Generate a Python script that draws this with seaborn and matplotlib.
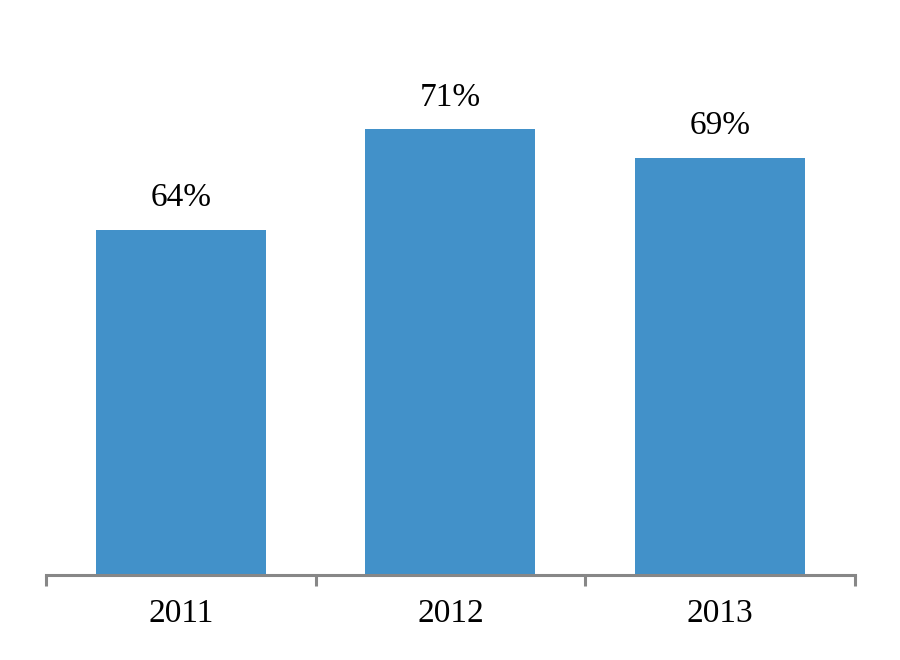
import matplotlib
matplotlib.use("Agg")
import matplotlib.pyplot as plt
import pandas as pd
import seaborn as sns

# Chart values
years = ["2011", "2012", "2013"]
shares = [64, 71, 69]
bar_color = "#4291C9"

df = pd.DataFrame({"year": years, "share": shares})

sns.set_style("white")
plt.rcParams["font.family"] = ["Liberation Serif", "DejaVu Serif"]

fig = plt.figure(figsize=(9, 6.6), dpi=100)
ax = fig.add_axes([0.051, 0.129, 0.899, 0.871])

sns.barplot(data=df, x="year", y="share", color=bar_color, width=0.63,
            saturation=1, linewidth=0, ax=ax)

ax.set_ylim(40, 80)
ax.set_xlim(-0.5, 2.5)

# Value labels above bars
for container in ax.containers:
    ax.bar_label(container, labels=[f"{v}%" for v in shares], padding=12,
                 fontsize=24, color="black")

# Axis styling: only bottom gray line with ticks at category boundaries
for side in ["top", "right", "left"]:
    ax.spines[side].set_visible(False)
ax.spines["bottom"].set_color("#878787")
ax.spines["bottom"].set_linewidth(2.2)
ax.set_yticks([])
ax.set_xlabel("")
ax.set_ylabel("")

ax.set_xticks([0, 1, 2])
ax.set_xticklabels(years, fontsize=24, color="black")
ax.set_xticks([-0.5, 0.5, 1.5, 2.5], minor=True)
ax.tick_params(axis="x", which="major", bottom=False, length=0, pad=17)
ax.tick_params(axis="x", which="minor", bottom=True, length=8, width=2.2,
               color="#878787", direction="out")

fig.savefig("out.png", dpi=100)
